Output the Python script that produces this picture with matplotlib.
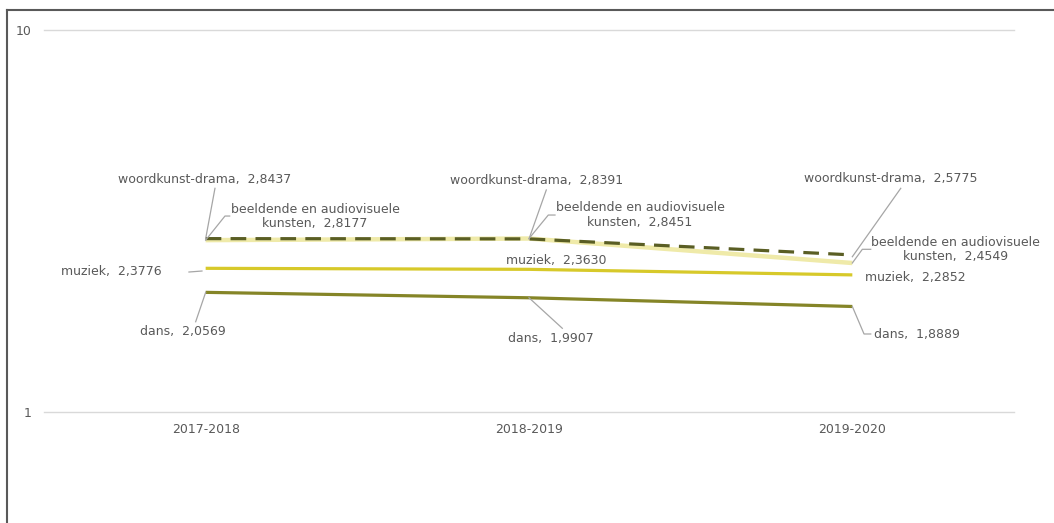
import numpy as np
import matplotlib
matplotlib.use("Agg")
import matplotlib.pyplot as plt
from matplotlib.lines import Line2D

# Gegevens
jaren = ["2017-2018", "2018-2019", "2019-2020"]
woordkunst = [2.8437, 2.8391, 2.5775]
beeldende = [2.8177, 2.8451, 2.4549]
muziek = [2.3776, 2.3630, 2.2852]
dans = [2.0569, 1.9907, 1.8889]
namen = ["woordkunst-drama", "beeldende en audiovisuele\nkunsten", "muziek", "dans"]

tekstkleur = "#595959"
plt.rcParams["font.family"] = ["DejaVu Sans"]
plt.rcParams["font.size"] = 9

fig = plt.figure(figsize=(10.54, 5.23), dpi=100)
ax = fig.add_axes([44 / 1054, 1 - 412 / 523, 970 / 1054, 382 / 523])

x = np.arange(len(jaren))
ax.plot(x, dans, color="#858527", lw=2.3, solid_capstyle="butt", zorder=3)
ax.plot(x, muziek, color="#d7c92a", lw=2.3, solid_capstyle="butt", zorder=3)
ax.plot(x, beeldende, color="#efeaa9", lw=3.2, solid_capstyle="butt", zorder=3)
ax.plot(x, woordkunst, color="#5a5e24", lw=2.3, dashes=(4.9, 2.9),
        dash_capstyle="butt", zorder=4)

ax.set_yscale("log")
ax.set_ylim(1, 10)
ax.set_xlim(-0.5, 2.5)
ax.set_yticks([1, 10])
ax.set_yticklabels(["1", "10"])
ax.yaxis.set_minor_locator(matplotlib.ticker.NullLocator())
ax.set_xticks(x)
ax.set_xticklabels(jaren)
ax.tick_params(length=0, colors=tekstkleur, labelsize=9)
ax.tick_params(axis="y", pad=9)
ax.tick_params(axis="x", pad=8)
ax.grid(axis="y", color="#d9d9d9", lw=1.0)
for g in ax.get_ygridlines():
    g.set_clip_on(False)
ax.set_axisbelow(True)
for s in ax.spines.values():
    s.set_visible(False)

# label-posities (pixels t.o.v. het punt) en aanhaallijnen
tekst_offsets = {
    0: [(-0.7, 59.6), (7.5, 57.9), (38.7, 76.6)],
    1: [(109.3, 23.8), (111, 23.5), (103.4, 13.5)],
    2: [(-94, -3.4), (27.7, 9.3), (62.5, -2.4)],
    3: [(-22.5, -38.7), (21.5, -41.2), (64.5, -28.5)],
}
lijnen = {
    0: [[(0, 0), (9.3, 50.3)], [(0, 0), (17.3, 48.9)], [(0, -1.8), (48.4, 66.6)]],
    1: [[(0, 0), (19.3, 24.1), (24, 24.1)], [(0, 0), (19.3, 23.5), (26, 23.5)],
        [(0, 0), (10, 13.7), (18.4, 13.7)]],
    2: [[(-3.7, -2.7), (-16.7, -3.7)], None, None],
    3: [[(0, 0), (-10, -29.4)], [(0, 0), (33.3, -30.5)],
        [(0, 0), (11.7, -27.5), (18.4, -27.5)]],
}

reeksen = [woordkunst, beeldende, muziek, dans]
for r, waarden in enumerate(reeksen):
    for i, v in enumerate(waarden):
        label = namen[r] + ",  " + f"{v:.4f}".replace(".", ",")
        dx, dy = tekst_offsets[r][i]
        ax.annotate(label, xy=(x[i], v), xytext=(dx, dy), textcoords="offset pixels",
                    ha="center", va="center", color=tekstkleur, fontsize=9,
                    multialignment="center", linespacing=1.15, zorder=5)
        pad = lijnen[r][i]
        if pad is None:
            continue
        px, py = ax.transData.transform((x[i], v))
        xs = [px + p[0] for p in pad]
        ys = [py + p[1] for p in pad]
        fig.add_artist(Line2D(xs, ys, transform=matplotlib.transforms.IdentityTransform(),
                              color="#a6a6a6", lw=0.9, zorder=6))

# rand van de grafiek
fig.add_artist(Line2D([7 / 1054, 1], [1 - 9.5 / 523, 1 - 9.5 / 523], color="#595959", lw=1.5))
fig.add_artist(Line2D([7 / 1054, 7 / 1054], [0, 1 - 9.5 / 523], color="#595959", lw=1.5))

fig.savefig("out.png", dpi=100)
